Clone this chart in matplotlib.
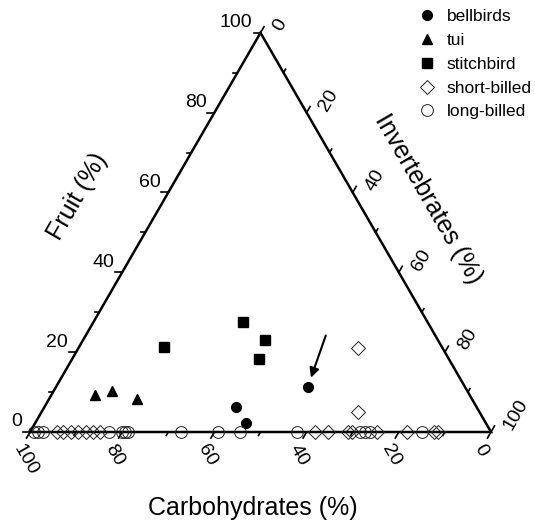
import matplotlib
matplotlib.use('Agg')
import matplotlib.pyplot as plt
import numpy as np

plt.rcParams['font.family'] = ['Liberation Sans', 'DejaVu Sans']

# diet composition (%), carbohydrates = remainder
bell_fruit = [6.3, 2.3, 11.3]
bell_inv = [41.5, 45.7, 54.6]

tui_fruit = [9.3, 10.3, 8.3]
tui_inv = [9.5, 12.6, 19.1]

stitch_fruit = [21.3, 27.6, 23.1, 18.3]
stitch_inv = [18.4, 32.4, 39.4, 40.5]

short_fruit = [0, 0, 0, 0, 0, 0, 0, 0, 0, 0, 0, 0, 0, 0, 0, 21.0, 5.0]
short_inv = [5.9, 7.2, 8.9, 10.4, 12.1, 13.7, 15.2, 61.8, 64.6, 69.0,
             69.8, 75.3, 81.8, 87.6, 88.5, 60.6, 68.6]

long_fruit = [0] * 15
long_inv = [0.9, 1.7, 2.8, 17.1, 20.0, 20.6, 21.3, 32.8, 40.8, 45.6,
            57.9, 71.6, 72.7, 73.8, 85.0]

tick_vals = [0, 10, 20, 30, 40, 50, 60, 70, 80, 90, 100]
label_vals = [0, 20, 40, 60, 80, 100]

H = np.sqrt(3) / 2


def tern(fruit, inv):
    f = np.asarray(fruit, float) / 100
    i = np.asarray(inv, float) / 100
    return i + f / 2, f * H


fig = plt.figure(figsize=(5.35, 5.25), dpi=100)
ax = fig.add_axes([0, 0, 1, 1])
ax.set_xlim(-30 / 461, 505 / 461)
ax.set_ylim((432 - 525) / 461, 432 / 461)
ax.axis('off')

# triangle
ax.plot([0, 1, 0.5, 0], [0, 0, H, 0], color='k', lw=1.8, zorder=3,
        solid_joinstyle='miter')

px = 1 / 461
for v in tick_vals:
    L = 7 * px if v % 20 == 0 else 4 * px
    # fruit (left edge), ticks point left
    x, y = tern(v, 0)
    ax.plot([x, x - L], [y, y], color='k', lw=1.2)
    # carbohydrates (bottom), ticks point down-left
    x, y = tern(0, 100 - v)
    ax.plot([x, x - 0.5 * L], [y, y - H * L], color='k', lw=1.2)
    # invertebrates (right edge), ticks point up-right
    x, y = tern(100 - v, v)
    ax.plot([x, x + 0.5 * L], [y, y + H * L], color='k', lw=1.2)

for v in label_vals:
    x, y = tern(v, 0)
    ax.text(x - 8 * px, y + 10 * px, str(v), ha='right', va='center',
            fontsize=14)
    x, y = tern(0, 100 - v)
    ax.text(x - 13 * px, y - 14 * px, str(v), ha='left', va='center',
            rotation=-60, rotation_mode='anchor', fontsize=14)
    x, y = tern(100 - v, v)
    ax.text(x + 17 * px, y + 3 * px, str(v), ha='left', va='center',
            rotation=60, rotation_mode='anchor', fontsize=14)

ax.text(0.104, 0.510, 'Fruit (%)', rotation=60, ha='center', va='center',
        fontsize=18)
ax.text(0.863, 0.505, 'Invertebrates (%)', rotation=-60, ha='center',
        va='center', fontsize=18)
ax.text(0.484, -0.165, 'Carbohydrates (%)', ha='center', va='center',
        fontsize=18)

ec = '#222222'
x, y = tern(bell_fruit, bell_inv)
ax.plot(x, y, 'o', color='k', ms=7, ls='none', label='bellbirds', zorder=4)
bx, by = x[2], y[2]
x, y = tern(tui_fruit, tui_inv)
ax.plot(x, y, '^', color='k', ms=7.5, ls='none', label='tui', zorder=4)
x, y = tern(stitch_fruit, stitch_inv)
ax.plot(x, y, 's', color='k', ms=7.5, ls='none', label='stitchbird', zorder=4)
x, y = tern(short_fruit, short_inv)
ax.plot(x, y, 'D', mfc='none', mec=ec, mew=0.7, ms=7, ls='none',
        label='short-billed', zorder=4)
x, y = tern(long_fruit, long_inv)
ax.plot(x, y, 'o', mfc='none', mec=ec, mew=0.7, ms=8.5, ls='none',
        label='long-billed', zorder=4)

ax.annotate('', xy=(bx, by), xytext=(13, 37), textcoords='offset points',
            arrowprops=dict(arrowstyle='-|>', color='k', lw=1.5,
                            shrinkA=0, shrinkB=7, mutation_scale=14))

fig.legend(loc='upper left', bbox_to_anchor=(417 / 535, 1 - 9 / 525),
           frameon=False, fontsize=12.5, handlelength=1.1, handletextpad=0.6,
           labelspacing=0.5, borderpad=0, borderaxespad=0)

fig.savefig('out.png', dpi=100)
